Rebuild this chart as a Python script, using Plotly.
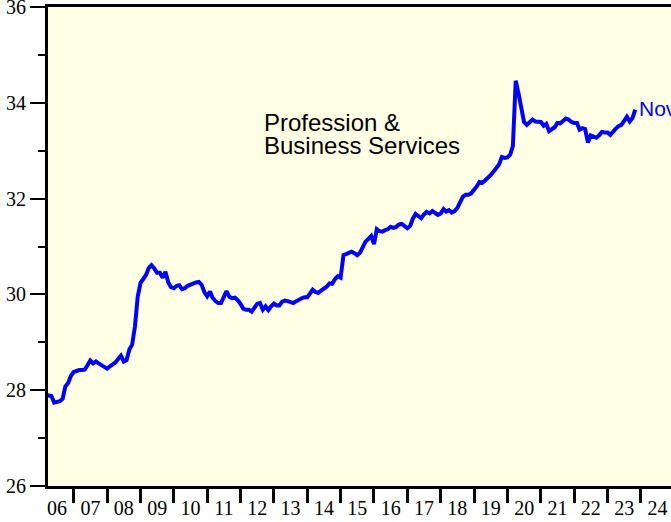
import plotly.graph_objects as go
import pandas as pd

# Monthly values, Mar 2006 .. Nov 2023
y2006 = [27.90, 27.90, 27.88, 27.74, 27.75, 27.77, 27.82, 28.08, 28.15, 28.30]  # Mar-Dec
y2007 = [28.38, 28.41, 28.42, 28.42, 28.43, 28.52, 28.62, 28.56, 28.60, 28.56, 28.52, 28.48]
y2008 = [28.45, 28.50, 28.54, 28.58, 28.65, 28.72, 28.60, 28.63, 28.85, 28.95, 29.33, 29.95]
y2009 = [30.24, 30.32, 30.40, 30.55, 30.61, 30.54, 30.45, 30.45, 30.35, 30.47, 30.25, 30.15]
y2010 = [30.13, 30.18, 30.19, 30.11, 30.13, 30.18, 30.21, 30.23, 30.25, 30.26, 30.20, 30.05]
y2011 = [29.96, 30.06, 29.93, 29.86, 29.82, 29.82, 29.95, 30.07, 29.95, 29.92, 29.93, 29.88]
y2012 = [29.80, 29.70, 29.68, 29.68, 29.64, 29.74, 29.80, 29.82, 29.68, 29.75, 29.67, 29.75]
y2013 = [29.81, 29.77, 29.77, 29.85, 29.87, 29.86, 29.84, 29.82, 29.86, 29.90, 29.92, 29.94]
y2014 = [29.94, 30.02, 30.10, 30.05, 30.03, 30.08, 30.12, 30.16, 30.23, 30.22, 30.32, 30.38]
y2015 = [30.35, 30.82, 30.84, 30.87, 30.89, 30.86, 30.82, 30.87, 30.98, 31.10, 31.16, 31.22]
y2016 = [31.05, 31.36, 31.32, 31.31, 31.34, 31.36, 31.41, 31.39, 31.41, 31.46, 31.47, 31.42]
y2017 = [31.38, 31.43, 31.58, 31.68, 31.63, 31.59, 31.67, 31.72, 31.69, 31.74, 31.70, 31.66]
y2018 = [31.69, 31.78, 31.73, 31.76, 31.71, 31.74, 31.80, 31.90, 32.04, 32.08, 32.08, 32.11]
y2019 = [32.18, 32.26, 32.35, 32.33, 32.38, 32.43, 32.49, 32.56, 32.65, 32.71, 32.87, 32.85]
y2020 = [32.86, 32.92, 33.10, 34.46, 34.20, 33.90, 33.60, 33.54, 33.60, 33.65, 33.61, 33.61]
y2021 = [33.60, 33.52, 33.56, 33.41, 33.45, 33.49, 33.58, 33.57, 33.62, 33.67, 33.65, 33.60]
y2022 = [33.58, 33.58, 33.44, 33.47, 33.45, 33.17, 33.32, 33.29, 33.27, 33.32, 33.39, 33.38]
y2023 = [33.38, 33.33, 33.40, 33.46, 33.51, 33.54, 33.62, 33.71, 33.61, 33.68, 33.86]  # Jan-Nov

values = (y2006 + y2007 + y2008 + y2009 + y2010 + y2011 + y2012 + y2013 + y2014 +
          y2015 + y2016 + y2017 + y2018 + y2019 + y2020 + y2021 + y2022 + y2023)
dates = pd.date_range("2006-03-01", periods=len(values), freq="MS")

years = list(range(2006, 2025))
year_labels = [f"{y % 100:02d}" for y in years]
y_ticks = [26, 28, 30, 32, 34, 36]
y_minor = [27, 29, 31, 33, 35]

title_line1 = "Profession &"
title_line2 = "Business Services"
end_label = "Nov"

fig = go.Figure()
fig.add_trace(go.Scatter(
    x=dates, y=values, mode="lines",
    line=dict(color="#0000FF", width=4),
    hoverinfo="skip", showlegend=False,
))

serif = "Liberation Serif, DejaVu Serif, serif"
sans = "Liberation Sans, Arial, sans-serif"

fig.update_layout(
    width=671, height=522,
    margin=dict(l=48, r=0, t=7, b=36),
    paper_bgcolor="white",
    plot_bgcolor="#FFFFE6",
    showlegend=False,
)

fig.update_xaxes(
    type="date", automargin=False, ticklabeloverflow="allow",
    range=["2006-03-25", "2024-11-26"],
    tickvals=[f"{y}-07-02" for y in years],
    ticktext=year_labels,
    ticks="outside", ticklen=2, tickcolor="rgba(0,0,0,0)",
    tickfont=dict(family=serif, size=20, color="#000"),
    minor=dict(tickvals=[f"{y}-01-01" for y in years[1:]], ticks="outside",
               ticklen=14, tickwidth=3, tickcolor="black"),
    showgrid=False, zeroline=False,
    showline=True, linecolor="black", linewidth=3, mirror=True,
)

fig.update_yaxes(
    automargin=False, ticklabeloverflow="allow",
    range=[26, 36],
    tickvals=y_ticks,
    ticks="outside", ticklen=15, tickwidth=2, tickcolor="black",
    tickfont=dict(family=serif, size=20, color="#000"),
    minor=dict(tickvals=y_minor, ticks="outside", ticklen=7, tickwidth=2,
               tickcolor="black"),
    showgrid=False, zeroline=False,
    showline=True, linecolor="black", linewidth=3, mirror=False,
)

fig.add_annotation(
    x=0.344, y=0.759, xref="paper", yref="paper",
    text=title_line1, showarrow=False, xanchor="left", yanchor="middle",
    font=dict(family=sans, size=24, color="black"),
)
fig.add_annotation(
    x=0.344, y=0.711, xref="paper", yref="paper",
    text=title_line2, showarrow=False, xanchor="left", yanchor="middle",
    font=dict(family=sans, size=24, color="black"),
)
fig.add_annotation(
    x=dates[-1], y=values[-1], xref="x", yref="y",
    text=end_label, showarrow=False, xanchor="left", yanchor="middle",
    xshift=2, yshift=1,
    font=dict(family=sans, size=21, color="#0000FF"),
)

fig.write_html("out.html", config={"displayModeBar": False},
               post_script="document.body.style.margin='0';")
